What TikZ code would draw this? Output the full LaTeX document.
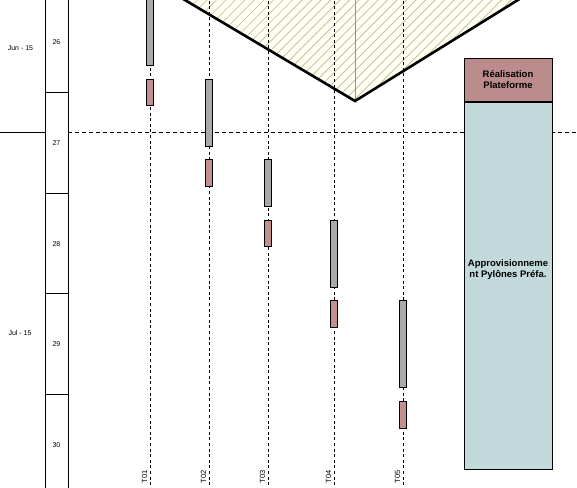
\documentclass[tikz,border=0pt]{standalone}
\usepackage{fontspec}
\setmainfont{Liberation Sans}
\usetikzlibrary{positioning}
\definecolor{barGray}{HTML}{A9A9A9}
\definecolor{barPink}{HTML}{C28E8E}
\definecolor{boxPink}{HTML}{BC8C8C}
\definecolor{boxBlue}{HTML}{C2DADB}
\definecolor{hatchOlive}{HTML}{BDBB8E}
\definecolor{hatchBg}{HTML}{FFFFF4}

\begin{document}
\begin{tikzpicture}[x=1pt,y=-1pt,line join=miter,
  grid/.style={line width=1pt,black},
  taskline/.style={line width=0.8pt,dash pattern=on 3pt off 2.6pt},
  graybar/.style={draw,line width=0.9pt,fill=barGray,minimum width=7.6pt,inner sep=0pt,anchor=north},
  pinkbar/.style={graybar,fill=barPink},
  weeklabel/.style={font=\fontsize{7}{8}\selectfont,inner sep=0pt},
  monthlabel/.style={font=\fontsize{7}{8}\selectfont,inner sep=0pt},
  tasklabel/.style={font=\fontsize{7.5}{8}\selectfont,inner sep=0pt,rotate=90},
  phasetext/.style={inner sep=0pt,align=center,font=\fontsize{9.5}{10.5}\selectfont\bfseries},
  phasebox/.style={draw,line width=1pt,minimum width=88pt,phasetext},
  node distance=0pt]
\useasboundingbox (0,0) rectangle (577,487);
\coordinate (vl) at (168,-10);
\coordinate (vb) at (355,101);
\coordinate (vr) at (534,-10);
% hatched zone
\fill[hatchBg] (vl) -- (vb) -- (vr) -- cycle;
\begin{scope}
\clip (vl) -- (vb) -- (vr) -- cycle;
\foreach \i in {0,...,40}
  \draw[hatchOlive,line width=0.7pt] (40+\i*9.5,110) -- ++(130,-130);
\end{scope}
\draw[hatchOlive!80!black,line width=0.8pt] (355,-10) -- (vb);
% week column
\draw[grid] (45,-5) -- (45,492);
\draw[grid] (68,-5) -- (68,492);
\foreach \y in {92,193,293,394}
  \draw[grid] (45,\y) -- (68,\y);
\foreach \w/\y in {26/42,27/143,28/244,29/344,30/445}
  \node[weeklabel] (w\w) at (56.5,\y) {\w};
\node[monthlabel] (jun) at (20.5,48) {Jun - 15};
\node[monthlabel] (jul) at (20,333) {Jul - 15};
\draw[grid] (0,132) -- (45,132);
\draw[taskline,dash pattern=on 4pt off 3pt] (68,132) -- (577,132);
% tasks
\foreach \t/\x in {1/150,2/209,3/268,4/334,5/403}{
  \coordinate (top\t) at (\x,-5);
  \coordinate (bot\t) at (\x,492);
  \draw[taskline] (top\t) -- (bot\t);
  \node[tasklabel] (lab\t) at (\x-5.5,477) {T0\t};
}
\draw[line width=2.6pt] (vl) -- (vb) -- (vr);
\node[graybar,minimum height=75pt] (g1) at (150,-10) {};
\node[pinkbar,minimum height=26pt] (p1) at (150,79) {};
\node[graybar,minimum height=67pt] (g2) at (209,79) {};
\node[pinkbar,minimum height=27pt] (p2) at (209,159) {};
\node[graybar,minimum height=47pt] (g3) at (268,159) {};
\node[pinkbar,minimum height=26pt] (p3) at (268,220) {};
\node[graybar,minimum height=67pt] (g4) at (334,220) {};
\node[pinkbar,minimum height=27pt] (p4) at (334,300) {};
\node[graybar,minimum height=87pt] (g5) at (403,300) {};
\node[pinkbar,minimum height=27pt] (p5) at (403,401) {};
% phases
\node[phasebox,fill=boxPink,minimum height=43pt] (real) at (508,79.5) {Réalisation\\Plateforme};
\node[phasebox,fill=boxBlue,minimum height=367pt,below=of real] (appro) {};
\node[phasetext] (approtxt) at ([yshift=16pt]appro.center) {Approvisionneme\\nt Pylônes Préfa.};
\end{tikzpicture}
\end{document}
